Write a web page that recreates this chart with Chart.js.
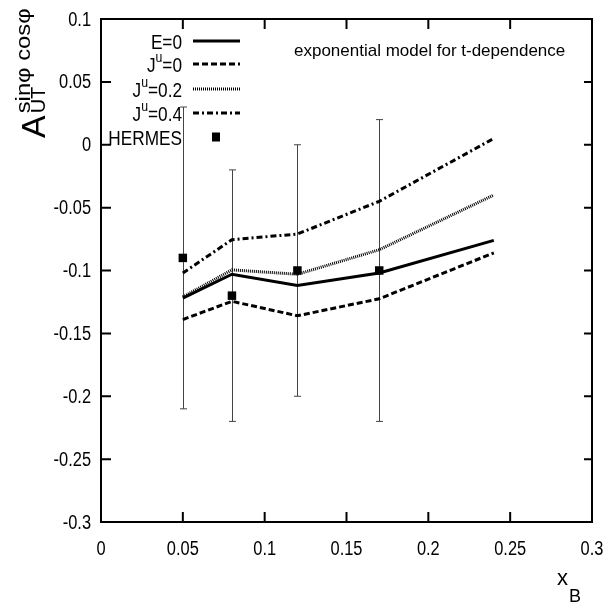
<!DOCTYPE html>
<html>
<head>
<meta charset="utf-8">
<script src="https://cdn.jsdelivr.net/npm/chart.js@4.4.1/dist/chart.umd.min.js"></script>
<style>
  html, body { margin: 0; padding: 0; background: #fff; }
  #wrap { width: 610px; height: 611px; }
</style>
</head>
<body>
<div id="wrap"><canvas id="chart" width="610" height="611"></canvas></div>
<script>
// ---------- data ----------
const xTicks = [0, 0.05, 0.1, 0.15, 0.2, 0.25, 0.3];
const xTickLabels = ["0", "0.05", "0.1", "0.15", "0.2", "0.25", "0.3"];
const yTicks = [0.1, 0.05, 0, -0.05, -0.1, -0.15, -0.2, -0.25, -0.3];
const yTickLabels = ["0.1", "0.05", "0", "-0.05", "-0.1", "-0.15", "-0.2", "-0.25", "-0.3"];

// model curves (exponential t-dependence)
const xModel = [0.05, 0.08, 0.12, 0.17, 0.24];
const curveE0 = [-0.122, -0.103, -0.112, -0.102, -0.076];
const curveJ0 = [-0.139, -0.1245, -0.136, -0.1225, -0.086];
const curveJ02 = [-0.121, -0.0995, -0.103, -0.0835, -0.040];
const curveJ04 = [-0.102, -0.0755, -0.071, -0.045, 0.005];

// HERMES points with errors
const xHermes = [0.05, 0.08, 0.12, 0.17];
const hermesVal = [-0.09, -0.12, -0.1, -0.1];
const hermesErr = [0.12, 0.1, 0.1, 0.12];

// legend labels: [main, superscript, rest]
const legendLabels = [
  ["E=0", "", ""],
  ["J", "u", "=0"],
  ["J", "u", "=0.2"],
  ["J", "u", "=0.4"],
  ["HERMES", "", ""]
];

const SANS = '"Liberation Sans", Arial, sans-serif';
const SQUEEZE = 0.82; // fake a condensed face, gnuplot style

function pts(xs, ys) {
  return xs.map((x, i) => ({ x: x, y: ys[i] }));
}

// ---------- helper: condensed text ----------
function narrowText(ctx, text, x, y, size, align, baseline) {
  ctx.save();
  ctx.translate(x, y);
  ctx.scale(SQUEEZE, 1);
  ctx.font = size + "px " + SANS;
  ctx.textAlign = align;
  ctx.textBaseline = baseline;
  ctx.fillText(text, 0, 0);
  ctx.restore();
}

function narrowWidth(ctx, text, size) {
  ctx.font = size + "px " + SANS;
  return ctx.measureText(text).width * SQUEEZE;
}

// legend label with optional superscript, right aligned
function drawLabel(ctx, parts, xRight, yMid, size) {
  const supSize = Math.round(size * 0.7);
  const w0 = narrowWidth(ctx, parts[0], size);
  const w1 = parts[1] ? narrowWidth(ctx, parts[1], supSize) : 0;
  const w2 = narrowWidth(ctx, parts[2], size);
  let x = xRight - (w0 + w1 + w2);
  narrowText(ctx, parts[0], x, yMid, size, "left", "middle");
  x += w0;
  if (parts[1]) {
    narrowText(ctx, parts[1], x, yMid - 8, supSize, "left", "middle");
    x += w1;
  }
  narrowText(ctx, parts[2], x, yMid, size, "left", "middle");
}

// ---------- plugin: frame, ticks, error bars, legend, titles ----------
const decorPlugin = {
  id: "decor",
  beforeDatasetsDraw(chart) {
    const ctx = chart.ctx;
    const xs = chart.scales.x;
    const ys = chart.scales.y;
    ctx.save();
    ctx.strokeStyle = "#444";
    ctx.lineWidth = 1;
    xHermes.forEach((xv, i) => {
      const px = Math.round(xs.getPixelForValue(xv)) + 0.5;
      const top = ys.getPixelForValue(hermesVal[i] + hermesErr[i]);
      const bot = ys.getPixelForValue(hermesVal[i] - hermesErr[i]);
      ctx.beginPath();
      ctx.moveTo(px, top);
      ctx.lineTo(px, bot);
      ctx.moveTo(px - 3.5, top);
      ctx.lineTo(px + 3.5, top);
      ctx.moveTo(px - 3.5, bot);
      ctx.lineTo(px + 3.5, bot);
      ctx.stroke();
    });
    ctx.restore();
  },
  afterDraw(chart) {
    const ctx = chart.ctx;
    const a = chart.chartArea;
    const xs = chart.scales.x;
    const ys = chart.scales.y;
    ctx.save();
    ctx.fillStyle = "#000";

    // frame
    ctx.strokeStyle = "#000";
    ctx.lineWidth = 2;
    ctx.strokeRect(a.left, a.top, a.right - a.left, a.bottom - a.top);

    // inward ticks on all four sides + tick labels
    ctx.beginPath();
    xTicks.forEach((v, i) => {
      const px = xs.getPixelForValue(v);
      ctx.moveTo(px, a.bottom);
      ctx.lineTo(px, a.bottom - 10);
      ctx.moveTo(px, a.top);
      ctx.lineTo(px, a.top + 10);
      narrowText(ctx, xTickLabels[i], px, a.bottom + 33, 20, "center", "alphabetic");
    });
    yTicks.forEach((v, i) => {
      const py = ys.getPixelForValue(v);
      ctx.moveTo(a.left, py);
      ctx.lineTo(a.left + 10, py);
      ctx.moveTo(a.right, py);
      ctx.lineTo(a.right - 8, py);
      narrowText(ctx, yTickLabels[i], a.left - 10, py + 1, 20, "right", "middle");
    });
    ctx.stroke();

    // legend
    const rows = [41, 64, 89, 113, 137];
    chart.data.datasets.forEach((ds, i) => {
      drawLabel(ctx, legendLabels[i], 182, rows[i] + 2, 21);
      if (ds.showLine === false) {
        ctx.fillRect(212, rows[i] - 4.5, 8, 9);
      } else {
        ctx.save();
        ctx.strokeStyle = ds.borderColor;
        ctx.lineWidth = ds.borderWidth;
        ctx.setLineDash(ds.borderDash || []);
        ctx.beginPath();
        ctx.moveTo(193, rows[i]);
        ctx.lineTo(240, rows[i]);
        ctx.stroke();
        ctx.restore();
      }
    });

    // annotation
    ctx.font = "17px " + SANS;
    ctx.textAlign = "left";
    ctx.textBaseline = "alphabetic";
    ctx.fillText("exponential model for t-dependence", 294, 56);

    // y title: A_UT^{sinφ cosφ}, rotated
    ctx.save();
    ctx.translate(45, 138);
    ctx.rotate(-Math.PI / 2);
    ctx.textAlign = "left";
    ctx.textBaseline = "alphabetic";
    ctx.font = "34px " + SANS;
    ctx.fillText("A", 0, 0);
    const aw = ctx.measureText("A").width;
    ctx.font = "20px " + SANS;
    ctx.fillText("UT", aw + 2, 0);
    ctx.font = "21px " + SANS;
    const sw = ctx.measureText("sinφ cosφ").width;
    ctx.translate(aw + 2, -15);
    ctx.scale(105 / sw, 1);
    ctx.fillText("sinφ cosφ", 0, 0);
    ctx.restore();

    // x title: x_B
    ctx.font = "22px " + SANS;
    ctx.fillText("x", 557, 585);
    ctx.font = "18px " + SANS;
    ctx.fillText("B", 569, 602);

    ctx.restore();
  }
};

// ---------- chart ----------
const lineBase = { borderColor: "#000", borderWidth: 3, pointRadius: 0, fill: false, tension: 0 };

new Chart(document.getElementById("chart").getContext("2d"), {
  type: "line",
  data: {
    datasets: [
      Object.assign({ label: "E=0", data: pts(xModel, curveE0) }, lineBase),
      Object.assign({ label: "Ju=0", data: pts(xModel, curveJ0), borderDash: [6, 3] }, lineBase),
      Object.assign({ label: "Ju=0.2", data: pts(xModel, curveJ02), borderDash: [1, 1] }, lineBase),
      Object.assign({ label: "Ju=0.4", data: pts(xModel, curveJ04), borderDash: [6, 3, 2, 3] }, lineBase),
      {
        label: "HERMES",
        data: pts(xHermes, hermesVal),
        showLine: false,
        pointStyle: "rect",
        pointRadius: 6,
        pointBackgroundColor: "#000",
        pointBorderWidth: 0
      }
    ]
  },
  options: {
    responsive: false,
    animation: false,
    devicePixelRatio: 1,
    layout: { padding: { left: 0, right: 18, top: 19, bottom: 0 } },
    plugins: { legend: { display: false }, tooltip: { enabled: false } },
    scales: {
      x: {
        type: "linear",
        min: 0,
        max: 0.3,
        afterFit: (s) => { s.height = 89; s.paddingLeft = 0; s.paddingRight = 0; },
        grid: { display: false, drawTicks: false },
        border: { display: false },
        ticks: { display: false }
      },
      y: {
        type: "linear",
        min: -0.3,
        max: 0.1,
        afterFit: (s) => { s.width = 101; s.paddingTop = 0; s.paddingBottom = 0; },
        grid: { display: false, drawTicks: false },
        border: { display: false },
        ticks: { display: false }
      }
    }
  },
  plugins: [decorPlugin]
});
</script>
</body>
</html>
